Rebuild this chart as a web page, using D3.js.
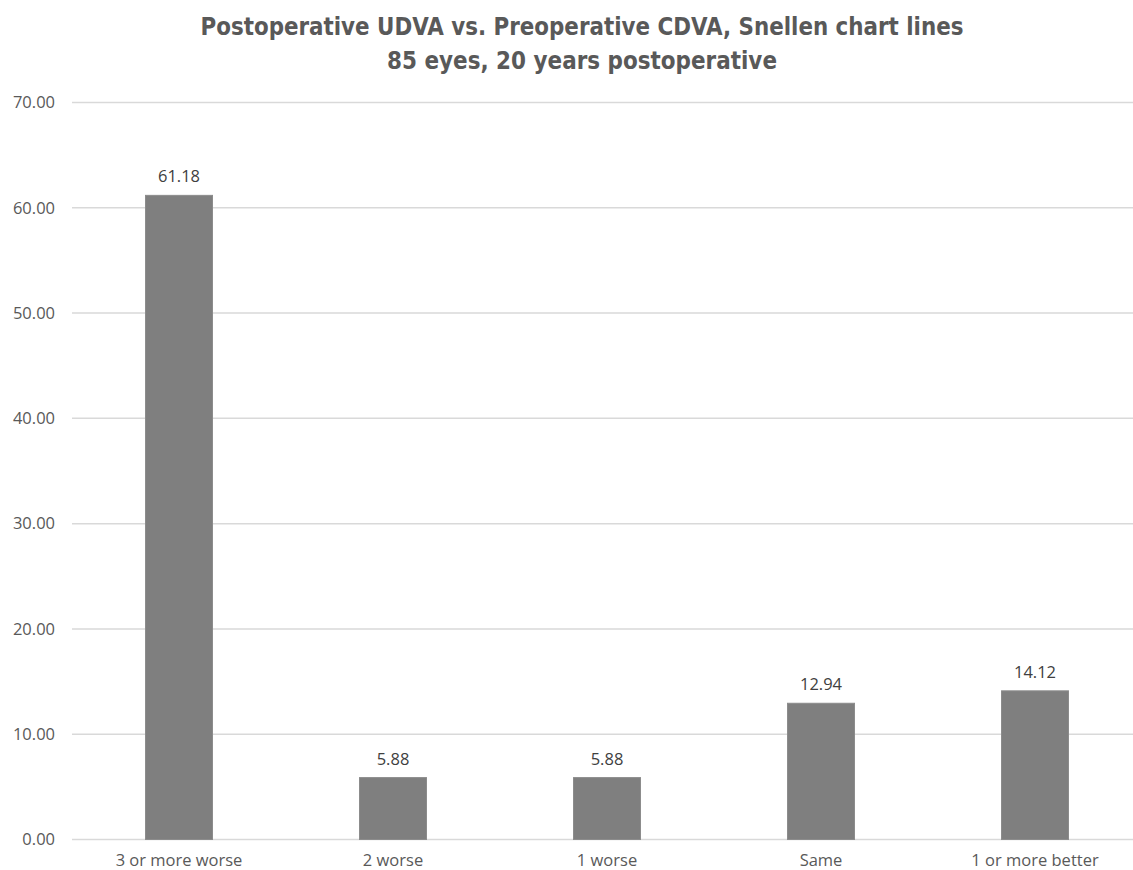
<!DOCTYPE html>
<html><head><meta charset="utf-8">
<script src="https://cdn.jsdelivr.net/npm/d3@7"></script>
<style>body{margin:0;background:#fff}</style>
</head><body>
<svg id="c" width="1133" height="870"></svg>
<script>
const categories = ["3 or more worse","2 worse","1 worse","Same","1 or more better"];
const values = [61.18, 5.88, 5.88, 12.94, 14.12];
const yTicks = [0,10,20,30,40,50,60,70];
const titleLines = ["Postoperative UDVA vs. Preoperative CDVA, Snellen chart lines","85 eyes, 20 years postoperative"];

const svg = d3.select("#c");
const x = d3.scaleBand().domain(categories).range([72,1142]).paddingInner(0.687).paddingOuter(0.3435);
const y = d3.scaleLinear().domain([0,70]).range([839.5,102.5]);
const fam = "'Open Sans','DejaVu Sans',sans-serif";

svg.append("g").selectAll("line").data(yTicks).join("line")
  .attr("x1",72).attr("x2",1133).attr("y1",d=>y(d)).attr("y2",d=>y(d))
  .attr("stroke","#d9d9d9").attr("stroke-width",1.5);

const yAxis = d3.axisLeft(y).tickValues(yTicks).tickFormat(d3.format(".2f")).tickSize(0).tickPadding(0);
const ga = svg.append("g").attr("transform","translate(55,0)").call(yAxis);
ga.select(".domain").remove();
ga.selectAll("text").attr("fill","#595959").style("font-family",fam).style("font-size","16.5px");

svg.append("g").selectAll("rect").data(values).join("rect")
  .attr("x",(d,i)=>x(categories[i])).attr("width",x.bandwidth())
  .attr("y",d=>y(d)).attr("height",d=>y(0)-y(d))
  .attr("fill","#7f7f7f").attr("stroke","#8c8c8c").attr("stroke-width",1);

svg.append("g").selectAll("text").data(values).join("text")
  .attr("x",(d,i)=>x(categories[i])+x.bandwidth()/2).attr("y",d=>y(d)-13)
  .attr("text-anchor","middle").attr("fill","#404040")
  .style("font-family",fam).style("font-size","16.5px")
  .text(d=>d.toFixed(2));

const xAxis = d3.axisBottom(x).tickSize(0).tickPadding(0);
const gx = svg.append("g").attr("transform","translate(0,854)").call(xAxis);
gx.select(".domain").remove();
gx.selectAll("text").attr("fill","#595959").attr("dy","0.71em").style("font-family",fam).style("font-size","16.5px");

svg.append("g").selectAll("text").data(titleLines).join("text")
  .attr("x",582).attr("y",(d,i)=>35+i*34)
  .attr("text-anchor","middle").attr("fill","#595959")
  .style("font-family","'Liberation Sans Narrow','DejaVu Sans Condensed',sans-serif")
  .style("font-weight","bold").style("font-size","25px")
  .attr("textLength",(d,i)=>i===0?763:390).attr("lengthAdjust","spacingAndGlyphs")
  .text(d=>d);
</script>
</body></html>
